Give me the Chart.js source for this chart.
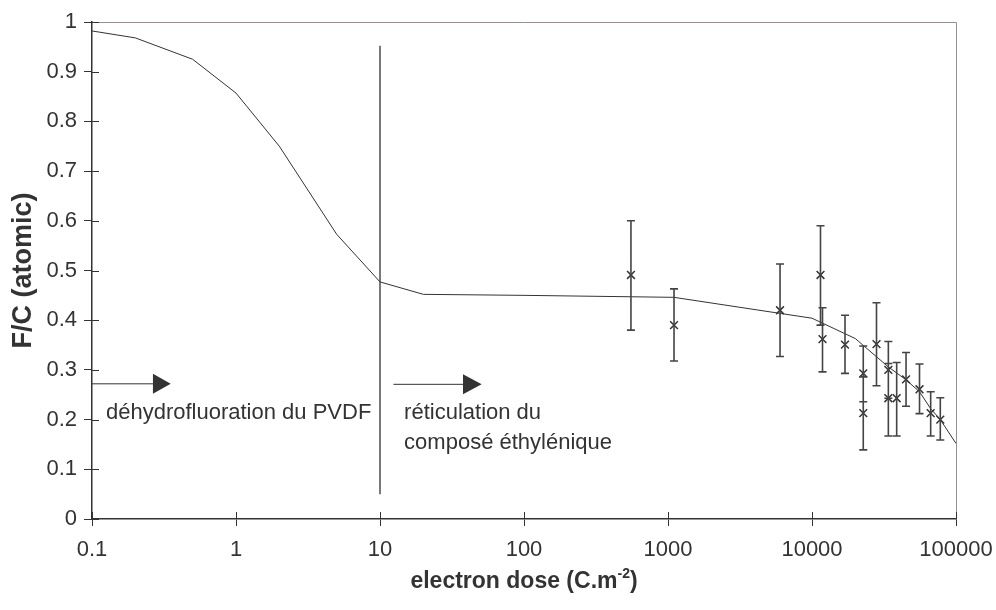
<!DOCTYPE html>
<html><head><meta charset="utf-8">
<script src="https://cdn.jsdelivr.net/npm/chart.js@4/dist/chart.umd.min.js"></script>
<style>html,body{margin:0;padding:0;background:#fff;}#wrap{width:996px;height:610px;}</style>
</head><body><div id="wrap"><canvas id="c" width="996" height="610"></canvas></div>
<script>
// ---- data ----
const xTickValues = [0.1, 1, 10, 100, 1000, 10000, 100000];
const yTickValues = [0, 0.1, 0.2, 0.3, 0.4, 0.5, 0.6, 0.7, 0.8, 0.9, 1];

const curveDose = [0.1, 0.2, 0.5, 1, 2, 5, 10, 20, 100, 1100, 10000, 20000, 33900, 45000, 55800, 66700, 77800, 100000];
const curveFC   = [0.982, 0.968, 0.925, 0.857, 0.75, 0.573, 0.477, 0.452, 0.45, 0.446, 0.404, 0.363, 0.306, 0.28, 0.256, 0.222, 0.2, 0.152];

const measDose = [553, 1101, 5998, 11455, 11830, 16950, 22700, 22700, 28050, 33900, 33900, 38730, 44980, 55800, 66700, 77800];
const measFC   = [0.491, 0.39, 0.42, 0.491, 0.362, 0.351, 0.293, 0.213, 0.352, 0.30, 0.243, 0.243, 0.281, 0.261, 0.213, 0.20];
const measLow  = [0.38, 0.318, 0.327, 0.39, 0.296, 0.293, 0.236, 0.139, 0.268, 0.243, 0.167, 0.167, 0.227, 0.212, 0.167, 0.159];
const measHigh = [0.60, 0.463, 0.513, 0.59, 0.425, 0.41, 0.348, 0.286, 0.435, 0.357, 0.313, 0.315, 0.335, 0.312, 0.256, 0.244];

const boundaryDose = [10, 10];
const boundaryFC   = [0.952, 0.05];

// arrows: [start dose, head start dose, tip dose, F/C level]
const arrow1 = [0.1, 0.265, 0.352, 0.272];
const arrow2 = [12.4, 37.7, 50.8, 0.271];

const label1 = {text: ['déhydrofluoration du PVDF'], dose: 0.125, fc: 0.213};
const label2 = {text: ['réticulation du', 'composé éthylénique'], dose: 14.7, fc: 0.213};

const INK = '#333333';
const TXT = '#333333';

const extras = {
  id: 'extras',
  afterDatasetsDraw(chart) {
    const ctx = chart.ctx, xs = chart.scales.x, ys = chart.scales.y, a = chart.chartArea;
    ctx.save();
    // frame top & right
    ctx.strokeStyle = '#9a8e8e'; ctx.lineWidth = 1;
    ctx.beginPath();
    ctx.moveTo(a.left, a.top + 0.5); ctx.lineTo(a.right + 0.5, a.top + 0.5); ctx.lineTo(a.right + 0.5, a.bottom);
    ctx.stroke();
    // inner tick parts
    ctx.strokeStyle = INK; ctx.lineWidth = 1;
    ctx.beginPath();
    yTickValues.forEach(v => { const py = Math.round(ys.getPixelForValue(v)) + 0.5; ctx.moveTo(a.left, py); ctx.lineTo(a.left + 7, py); });
    xTickValues.forEach(v => { const px = Math.round(xs.getPixelForValue(v)) + 0.5; ctx.moveTo(px, a.bottom); ctx.lineTo(px, a.bottom - 7); });
    ctx.stroke();
    // error bars
    ctx.strokeStyle = '#444'; ctx.lineWidth = 1.6;
    ctx.beginPath();
    measDose.forEach((d, i) => {
      const px = xs.getPixelForValue(d);
      const yl = ys.getPixelForValue(measLow[i]), yh = ys.getPixelForValue(measHigh[i]);
      ctx.moveTo(px, yl); ctx.lineTo(px, yh);
      ctx.moveTo(px - 4, yl); ctx.lineTo(px + 4, yl);
      ctx.moveTo(px - 4, yh); ctx.lineTo(px + 4, yh);
    });
    ctx.stroke();
    // arrows
    [arrow1, arrow2].forEach(ar => {
      const x0 = xs.getPixelForValue(ar[0]), x1 = xs.getPixelForValue(ar[1]), x2 = xs.getPixelForValue(ar[2]);
      const py = ys.getPixelForValue(ar[3]);
      ctx.strokeStyle = INK; ctx.lineWidth = 1;
      ctx.beginPath(); ctx.moveTo(x0, py); ctx.lineTo(x1, py); ctx.stroke();
      ctx.fillStyle = INK;
      ctx.beginPath(); ctx.moveTo(x1, py - 10); ctx.lineTo(x2, py); ctx.lineTo(x1, py + 10); ctx.closePath(); ctx.fill();
    });
    // annotations
    ctx.fillStyle = TXT; ctx.font = '22px "Liberation Sans", Arial, sans-serif';
    ctx.textAlign = 'left'; ctx.textBaseline = 'middle';
    [label1, label2].forEach(l => {
      const px = xs.getPixelForValue(l.dose), py = ys.getPixelForValue(l.fc);
      l.text.forEach((t, k) => ctx.fillText(t, px, py + k * 30));
    });
    // x title with superscript
    const main1 = 'electron dose (C.m', sup = '-2', main2 = ')';
    const fMain = 'bold 23px "Liberation Sans", Arial, sans-serif';
    const fSup = 'bold 14px "Liberation Sans", Arial, sans-serif';
    ctx.font = fMain; const w1 = ctx.measureText(main1).width, w3 = ctx.measureText(main2).width;
    ctx.font = fSup; const w2 = ctx.measureText(sup).width;
    const total = w1 + w2 + w3;
    let tx = (a.left + a.right) / 2 - total / 2;
    const ty = 588;
    ctx.textBaseline = 'alphabetic';
    ctx.font = fMain; ctx.fillText(main1, tx, ty); tx += w1;
    ctx.font = fSup; ctx.fillText(sup, tx, ty - 10); tx += w2;
    ctx.font = fMain; ctx.fillText(main2, tx, ty);
    ctx.restore();
  }
};

const fmt = v => String(Math.round(v * 100000) / 100000);

new Chart(document.getElementById('c'), {
  data: {
    datasets: [
      { type: 'line', data: curveDose.map((d, i) => ({x: d, y: curveFC[i]})), borderColor: INK, borderWidth: 1, pointRadius: 0, tension: 0 },
      { type: 'line', data: boundaryDose.map((d, i) => ({x: d, y: boundaryFC[i]})), borderColor: INK, borderWidth: 1.3, pointRadius: 0 },
      { type: 'scatter', data: measDose.map((d, i) => ({x: d, y: measFC[i]})), pointStyle: 'crossRot', pointRadius: 5.5, borderColor: INK, borderWidth: 1.5, backgroundColor: INK }
    ]
  },
  options: {
    responsive: false, animation: false, events: [],
    layout: { padding: { top: 22, right: 40, left: 0, bottom: 0 } },
    plugins: { legend: { display: false }, tooltip: { enabled: false } },
    scales: {
      x: {
        type: 'logarithmic', min: 0.1, max: 100000,
        afterBuildTicks: s => { s.ticks = xTickValues.map(v => ({value: v})); },
        afterFit: s => { s.height = 91; s.paddingLeft = 0; s.paddingRight = 0; },
        ticks: { callback: v => fmt(v), color: TXT, font: { size: 22, family: '"Liberation Sans", Arial, sans-serif' }, padding: 11, maxRotation: 0, autoSkip: false },
        grid: { drawOnChartArea: false, tickLength: 7, color: INK, lineWidth: 1 },
        border: { color: INK, width: 1.5 }
      },
      y: {
        min: 0, max: 1,
        afterBuildTicks: s => { s.ticks = yTickValues.map(v => ({value: v})); },
        afterFit: s => { s.width = 92; s.paddingTop = 0; s.paddingBottom = 0; },
        ticks: { callback: v => fmt(v), color: TXT, font: { size: 22, family: '"Liberation Sans", Arial, sans-serif' }, padding: 7, autoSkip: false },
        grid: { drawOnChartArea: false, tickLength: 8, color: INK, lineWidth: 1 },
        border: { color: INK, width: 1.5 },
        title: { display: true, text: 'F/C (atomic)', color: TXT, font: { size: 27, weight: 'bold', family: '"Liberation Sans", Arial, sans-serif' }, padding: { top: 7 } }
      }
    }
  },
  plugins: [extras]
});
</script>
</body></html>
